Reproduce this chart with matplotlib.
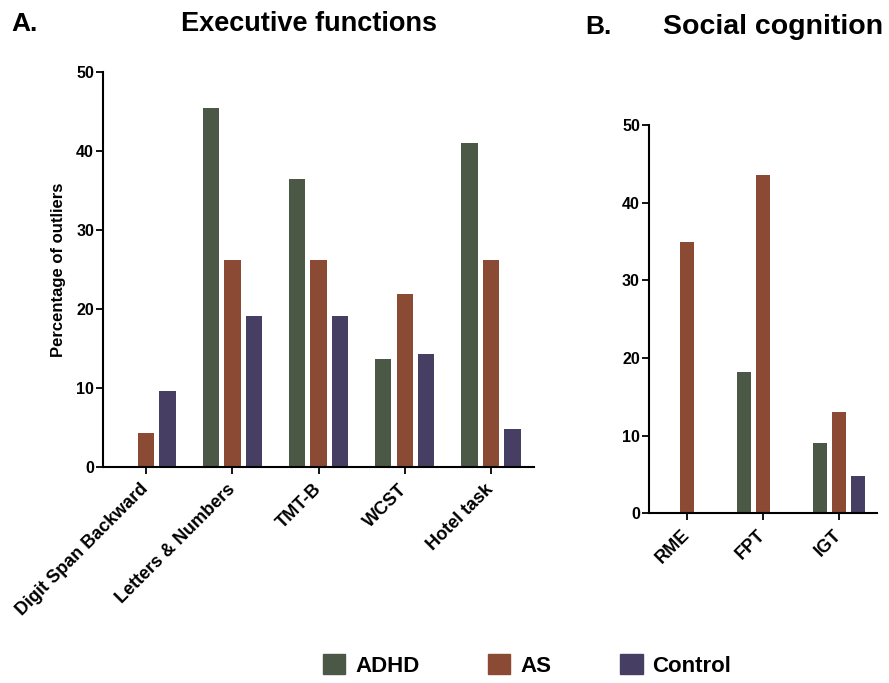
import matplotlib
matplotlib.use('Agg')
import matplotlib.pyplot as plt
import matplotlib.patches as mpatches
import numpy as np

plt.rcParams['font.family'] = ['Liberation Sans', 'DejaVu Sans']
plt.rcParams['font.weight'] = 'bold'

groups = ['ADHD', 'AS', 'Control']
colors = ['#4b5846', '#8b4a34', '#463f63']

exec_tasks = ['Digit Span Backward', 'Letters & Numbers', 'TMT-B', 'WCST', 'Hotel task']
exec_adhd = [0, 45.5, 36.5, 13.7, 41.0]
exec_as = [4.4, 26.2, 26.2, 21.9, 26.2]
exec_control = [9.6, 19.2, 19.2, 14.4, 4.8]

social_tasks = ['RME', 'FPT', 'IGT']
social_adhd = [0, 18.2, 9.1]
social_as = [34.9, 43.5, 13.1]
social_control = [0, 0, 4.8]

width = 0.19
offset = 0.25


def draw_panel(ax, tasks, series):
    x = np.arange(len(tasks))
    for i, (vals, col) in enumerate(zip(series, colors)):
        ax.bar(x + (i - 1) * offset, vals, width, color=col, edgecolor='none')
    ax.set_xlim(-0.5, len(tasks) - 0.5)
    ax.set_ylim(0, 50)
    ax.set_yticks([0, 10, 20, 30, 40, 50])
    ax.set_xticks(x)
    ax.set_xticklabels(tasks, rotation=45, ha='right', va='center',
                       rotation_mode='anchor', fontsize=13, fontweight='bold')
    for s in ['top', 'right']:
        ax.spines[s].set_visible(False)
    for s in ['left', 'bottom']:
        ax.spines[s].set_linewidth(1.5)
    ax.tick_params(axis='y', length=5, width=1.3, labelsize=11.5, pad=1.5)
    ax.tick_params(axis='x', length=5, width=1.3, pad=9)
    for lab in ax.get_yticklabels():
        lab.set_fontweight('bold')


fig = plt.figure(figsize=(8.89, 6.83), dpi=100)

ax1 = fig.add_axes([0.1159, 0.3158, 0.4848, 0.5783])
draw_panel(ax1, exec_tasks, [exec_adhd, exec_as, exec_control])
ax1.set_ylabel('Percentage of outliers', fontsize=12, fontweight='bold', labelpad=7)

ax2 = fig.add_axes([0.730, 0.2485, 0.2565, 0.5685])
draw_panel(ax2, social_tasks, [social_adhd, social_as, social_control])

fig.text(0.013, 0.9546, 'A.', fontsize=19, fontweight='bold', ha='left', va='baseline')
fig.text(0.3476, 0.9546, 'Executive functions', fontsize=19.5, fontweight='bold',
         ha='center', va='baseline')
fig.text(0.658, 0.950, 'B.', fontsize=19, fontweight='bold', ha='left', va='baseline')
fig.text(0.870, 0.950, 'Social cognition', fontsize=20.5, fontweight='bold',
         ha='center', va='baseline')

handles = [mpatches.Patch(color=c, label=g) for g, c in zip(groups, colors)]
fig.legend(handles=handles, loc='center', bbox_to_anchor=(0.593, 0.026), ncol=3,
           frameon=False, prop={'size': 16, 'weight': 'bold'},
           handlelength=1.0, handleheight=1.0, handletextpad=0.45,
           columnspacing=3.1)

fig.savefig('out.png', dpi=100)
